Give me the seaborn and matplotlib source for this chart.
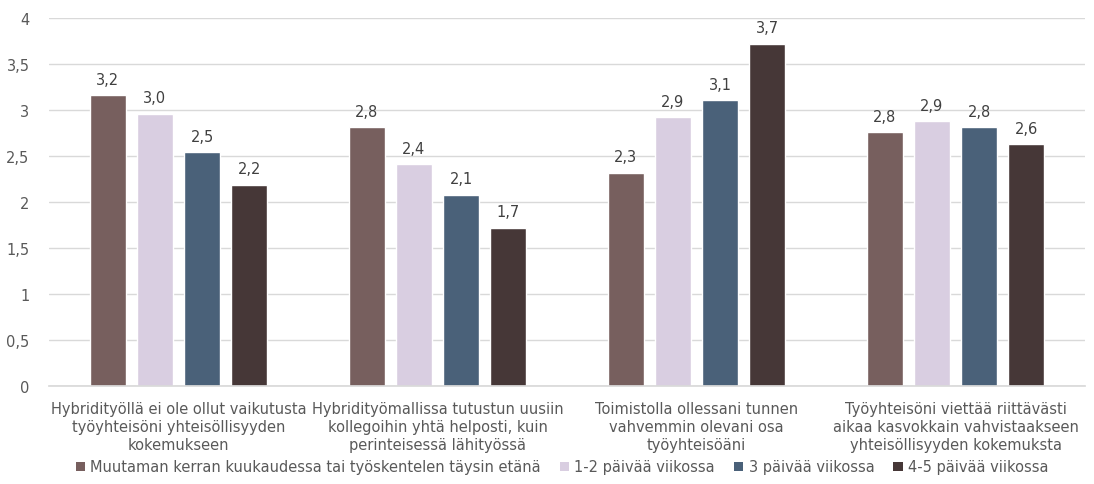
import matplotlib
matplotlib.use("Agg")
import matplotlib.pyplot as plt
import seaborn as sns
import pandas as pd
from matplotlib.patches import Patch
from matplotlib.ticker import FuncFormatter

categories = [
    "Hybridityöllä ei ole ollut vaikutusta\ntyöyhteisöni yhteisöllisyyden\nkokemukseen",
    "Hybridityömallissa tutustun uusiin\nkollegoihin yhtä helposti, kuin\nperinteisessä lähityössä",
    "Toimistolla ollessani tunnen\nvahvemmin olevani osa\ntyöyhteisöäni",
    "Työyhteisöni viettää riittävästi\naikaa kasvokkain vahvistaakseen\nyhteisöllisyyden kokemuksta",
]
series = [
    "Muutaman kerran kuukaudessa tai työskentelen täysin etänä",
    "1-2 päivää viikossa",
    "3 päivää viikossa",
    "4-5 päivää viikossa",
]
values = {
    series[0]: [3.16, 2.81, 2.32, 2.76],
    series[1]: [2.96, 2.41, 2.92, 2.88],
    series[2]: [2.54, 2.08, 3.11, 2.81],
    series[3]: [2.19, 1.72, 3.72, 2.63],
}
colors = ["#775F5E", "#D9CEE1", "#4A6179", "#463737"]

rows = []
for s in series:
    for c, v in zip(categories, values[s]):
        rows.append({"category": c, "series": s, "value": v})
df = pd.DataFrame(rows)

sns.set_theme(style="white")
plt.rcParams["font.family"] = ["DejaVu Sans"]

fs = 10.5
fig = plt.figure(figsize=(10.94, 4.85), dpi=100)
ax = fig.add_axes([49 / 1094, 1 - 387 / 485, (1085 - 49) / 1094, (387 - 19) / 485])

sns.barplot(data=df, x="category", y="value", hue="series", order=categories,
            hue_order=series, palette=colors, width=0.73, gap=0.24,
            saturation=1, ax=ax, legend=False, errorbar=None)

for cont in ax.containers:
    labels = [format(b.get_height(), ".1f").replace(".", ",") for b in cont]
    ax.bar_label(cont, labels=labels, padding=6, fontsize=fs, color="#404040")

ax.set_ylim(0, 4)
ax.set_yticks([0, 0.5, 1, 1.5, 2, 2.5, 3, 3.5, 4])
ax.yaxis.set_major_formatter(FuncFormatter(lambda v, p: (f"{v:g}").replace(".", ",")))
ax.grid(axis="y", color="#D9D9D9", linewidth=1)
ax.set_axisbelow(True)
for sp in ["top", "right", "left"]:
    ax.spines[sp].set_visible(False)
ax.spines["bottom"].set_color("#D9D9D9")
ax.set_xlabel("")
ax.set_ylabel("")
ax.tick_params(axis="y", length=0, pad=14, labelsize=fs, labelcolor="#595959")
ax.tick_params(axis="x", length=0, pad=11, labelsize=fs, labelcolor="#595959")
for t in ax.get_xticklabels():
    t.set_linespacing(1.25)
ax.set_xlim(-0.5, 3.5)

handles = [Patch(facecolor=c, edgecolor="none") for c in colors]
fig.legend(handles, series, loc="center", bbox_to_anchor=(562 / 1094, 1 - 468 / 485),
           ncol=4, frameon=False, fontsize=fs, handlelength=0.65, handleheight=0.65,
           handletextpad=0.35, columnspacing=1.3, labelcolor="#595959")

fig.savefig("out.png", dpi=100)
